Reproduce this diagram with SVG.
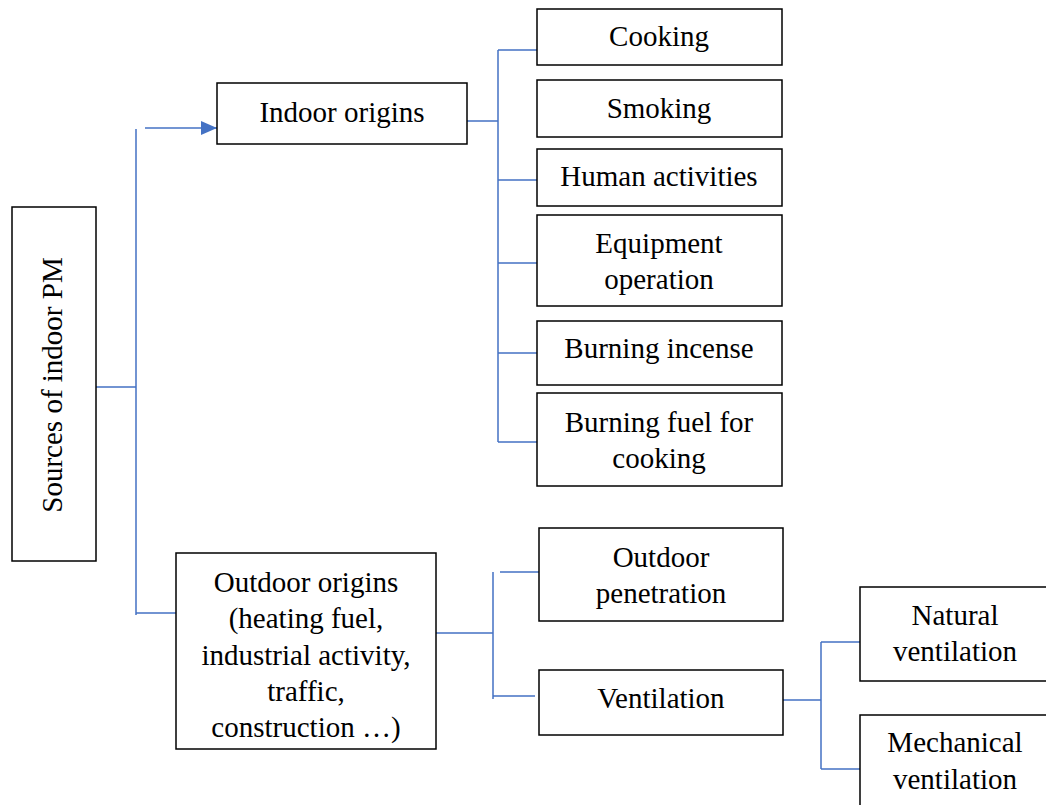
<svg xmlns="http://www.w3.org/2000/svg" width="1046" height="805" viewBox="0 0 1046 805">
<style>
.box{fill:#fff;stroke:#000;stroke-width:1.5}
.t{font-family:'Liberation Serif','Times New Roman',Tinos,'DejaVu Serif',serif;font-size:29px;fill:#000;text-anchor:middle}
.c{fill:none;stroke:#4472C4;stroke-width:1.5}
</style>
<defs>
<marker id="ah" markerWidth="16" markerHeight="14" refX="16" refY="7" orient="auto" markerUnits="userSpaceOnUse">
<path d="M0,0 L16,7 L0,14 Z" fill="#4472C4"/>
</marker>
</defs>
<rect width="1046" height="805" fill="#fff"/>
<g id="connectors">
<path class="c" d="M96,387 H136 M136,129 V615 M136,613 H176"/>
<path class="c" d="M145,128 H217" marker-end="url(#ah)"/>
<path class="c" d="M467,121 H498 M498,50 V442 M498,50 H537 M498,180 H537 M498,263 H537 M498,353 H537 M498,442 H537"/>
<path class="c" d="M436,633 H493 M493,572 V699 M500,572 H539 M493,696 H535"/>
<path class="c" d="M783,700 H821 M821,642 V769 M821,642 H860 M821,769 H860"/>
</g>
<g id="sources">
<rect class="box" x="12" y="207" width="84" height="354"/>
<text class="t" font-family="Liberation Serif, serif" transform="translate(62,385) rotate(-90)" x="0" y="0">Sources of indoor PM</text>
</g>
<g id="indoor">
<rect class="box" x="217" y="83" width="250" height="61"/>
<text class="t" x="342" y="122">Indoor origins</text>
</g>
<g id="cooking">
<rect class="box" x="537" y="9" width="245" height="56"/>
<text class="t" x="659" y="46">Cooking</text>
</g>
<g id="smoking">
<rect class="box" x="537" y="80" width="245" height="57"/>
<text class="t" x="659" y="118">Smoking</text>
</g>
<g id="human">
<rect class="box" x="537" y="149" width="245" height="57"/>
<text class="t" x="659" y="186">Human activities</text>
</g>
<g id="equipment">
<rect class="box" x="537" y="215" width="245" height="91"/>
<text class="t" x="659" y="253">Equipment</text>
<text class="t" x="659" y="289">operation</text>
</g>
<g id="incense">
<rect class="box" x="537" y="321" width="245" height="64"/>
<text class="t" x="659" y="358">Burning incense</text>
</g>
<g id="fuel">
<rect class="box" x="537" y="393" width="245" height="93"/>
<text class="t" x="659" y="432">Burning fuel for</text>
<text class="t" x="659" y="468">cooking</text>
</g>
<g id="outdoor">
<rect class="box" x="176" y="553" width="260" height="196"/>
<text class="t" x="306" y="592">Outdoor origins</text>
<text class="t" x="306" y="628">(heating fuel,</text>
<text class="t" x="306" y="665">industrial activity,</text>
<text class="t" x="306" y="701">traffic,</text>
<text class="t" x="306" y="737">construction …)</text>
</g>
<g id="penetration">
<rect class="box" x="539" y="528" width="244" height="93"/>
<text class="t" x="661" y="567">Outdoor</text>
<text class="t" x="661" y="603">penetration</text>
</g>
<g id="ventilation">
<rect class="box" x="539" y="670" width="244" height="65"/>
<text class="t" x="661" y="708">Ventilation</text>
</g>
<g id="natural">
<rect class="box" x="860" y="587" width="190" height="94"/>
<text class="t" x="955" y="625">Natural</text>
<text class="t" x="955" y="661">ventilation</text>
</g>
<g id="mechanical">
<rect class="box" x="860" y="715" width="190" height="95"/>
<text class="t" x="955" y="752">Mechanical</text>
<text class="t" x="955" y="789">ventilation</text>
</g>
</svg>
